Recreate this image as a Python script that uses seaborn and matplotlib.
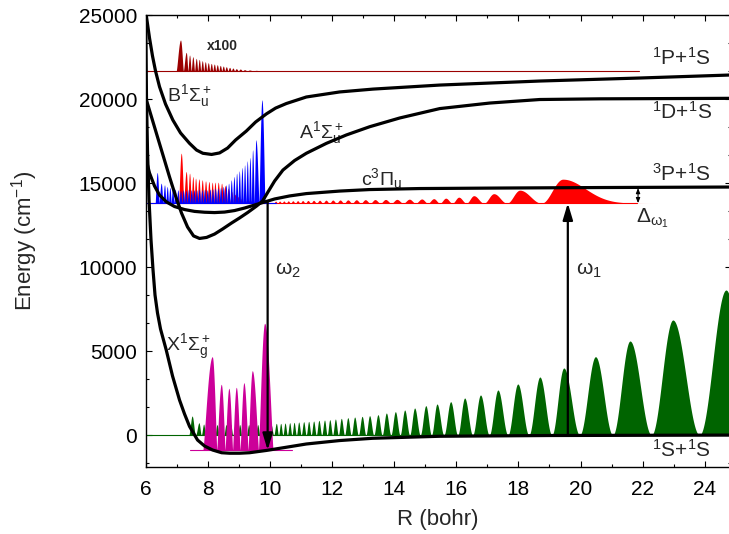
import numpy as np
import matplotlib
matplotlib.use("Agg")
import matplotlib.pyplot as plt
import seaborn as sns
from matplotlib.ticker import MultipleLocator

# ---- potential curves (R in bohr, E in cm^-1) ----
X_R = [6.006, 6.032, 6.064, 6.113, 6.177, 6.242, 6.306, 6.386, 6.483, 6.667, 6.870, 7.095,
       7.256, 7.417, 7.675, 7.900, 8.158, 8.448, 8.705, 9.027, 9.349, 9.887, 10.477, 11.176,
       12.248, 13.311, 15.469, 19.011, 24.84]
X_E = [25000, 19940, 16960, 13990, 11610, 9820, 8330, 7260, 6310, 5060, 3510, 2080,
       1250, 510, -300, -655, -893, -1055, -1085, -1085, -1055, -920, -745, -535,
       -330, -195, -75, -30, -5]

B_R = [6.023, 6.129, 6.225, 6.322, 6.451, 6.644, 6.879, 7.127, 7.417, 7.643, 7.845, 8.126,
       8.383, 8.641, 8.899, 9.243, 9.543, 9.887, 10.187, 10.531, 11.176, 12.248, 13.321,
       15.469, 18.689, 21.910, 24.84]
B_E = [25000, 23630, 22560, 21670, 20730, 19700, 18750, 17980, 17360, 16960, 16770, 16700,
       16790, 17080, 17560, 18090, 18630, 19110, 19460, 19730, 20120, 20420, 20590,
       20830, 21070, 21250, 21430]

A_R = [6.000, 6.193, 6.386, 6.580, 6.773, 6.966, 7.159, 7.353, 7.546, 7.739, 7.965, 8.222,
       8.480, 8.770, 9.027, 9.285, 9.575, 9.768, 9.939, 10.155, 10.422, 10.799, 11.176,
       11.820, 12.464, 13.214, 14.180, 15.469, 17.079, 18.689, 20.622, 24.84]
A_E = [20120, 18930, 17740, 16550, 15360, 14230, 13210, 12380, 11850, 11700, 11760, 11960,
       12260, 12620, 12920, 13240, 13630, 13930, 14460, 15120, 15770, 16340, 16770,
       17360, 17860, 18350, 18870, 19430, 19760, 19970, 20010, 20040]

C_R = [6.000, 6.129, 6.290, 6.451, 6.676, 6.934, 7.256, 7.578, 7.900, 8.222, 8.544, 8.866,
       9.188, 9.510, 9.833, 10.155, 10.638, 11.176, 12.248, 13.214, 14.824, 17.401,
       20.622, 24.84]
C_E = [16550, 15590, 14820, 14280, 13870, 13600, 13420, 13310, 13260, 13240, 13270, 13360,
       13510, 13690, 13870, 14050, 14230, 14370, 14520, 14610, 14670, 14700, 14730, 14760]

# ---- wave packets: lobe positions and heights above their baselines ----
GREEN_BASE = 0
GREEN_R = [7.50, 7.72, 7.87, 8.01, 8.16, 8.30, 8.45, 8.59, 8.74, 8.88, 9.03, 9.17, 9.32,
           9.46, 9.61, 9.75, 9.90, 10.04, 10.21, 10.35, 10.49, 10.64, 10.78, 10.93, 11.09,
           11.25, 11.41, 11.58, 11.76, 11.93, 12.11, 12.30, 12.51, 12.73, 12.97, 13.21,
           13.48, 13.75, 14.04, 14.34, 14.66, 15.02, 15.38, 15.82, 16.27, 16.78, 17.34,
           17.98, 18.69, 19.46, 20.48, 21.59, 22.97, 24.68]
GREEN_H = [1130, 730, 650, 620, 620, 620, 620, 620, 620, 620, 620, 620, 620, 620, 620, 620,
           620, 620, 694, 694, 714, 734, 754, 774, 794, 813, 833, 873, 893, 913, 952, 992,
           1032, 1071, 1111, 1151, 1210, 1309, 1389, 1488, 1607, 1746, 1845, 1982, 2202,
           2381, 2678, 3036, 3452, 3988, 4660, 5595, 6845, 8630]

PINK_BASE = -893
PINK_R = [8.148, 8.438, 8.683, 8.921, 9.166, 9.436, 9.833]
PINK_H = [5553, 3911, 3673, 3732, 4006, 4720, 7542]

BLUE_BASE = 13800
BLUE_R = [6.376, 6.505, 6.612, 6.698, 6.784, 6.870, 6.955, 7.041, 7.127, 7.213, 7.299,
          7.385, 7.471, 7.557, 7.643, 7.728, 7.814, 7.900, 7.986, 8.072, 8.158, 8.244,
          8.330, 8.415, 8.501, 8.587, 8.673, 8.759, 8.845, 8.931, 9.017, 9.103, 9.188,
          9.274, 9.360, 9.446, 9.553, 9.747]
BLUE_H = [1825, 1190, 1091, 992, 932, 893, 833, 794, 754, 794, 754, 833, 794, 794, 794,
          833, 794, 833, 794, 833, 853, 893, 893, 932, 992, 1091, 1190, 1389, 1587, 1786,
          1924, 2123, 2282, 2520, 2718, 3174, 3770, 6150]

RED_BASE = 13800
RED_R = [7.149, 7.310, 7.417, 7.524, 7.610, 7.718, 7.825, 7.932, 8.040, 8.147, 8.233,
         8.340, 8.448, 8.555, 8.662, 8.770, 8.877, 8.984, 9.092, 9.199, 9.306, 9.414,
         9.543, 9.704]
RED_H = [2976, 1885, 1786, 1587, 1488, 1448, 1389, 1329, 1290, 1250, 1250, 1250, 1190,
         1052, 893, 694, 536, 397, 298, 238, 198, 159, 139, 119]
RIPPLE_R = [10.187, 10.316, 10.451, 10.593, 10.741, 10.895, 11.056, 11.227, 11.407, 11.601,
            11.807, 12.026, 12.261, 12.512, 12.783, 13.072, 13.385, 13.723, 14.090, 14.490,
            14.889, 15.275, 15.662, 16.081, 16.564, 17.208, 18.045, 19.430]
RIPPLE_H = [119, 125, 131, 137, 143, 149, 155, 161, 167, 173, 179, 185, 190, 196, 202, 208,
            214, 220, 226, 238, 250, 268, 298, 357, 446, 565, 774, 1428]

DARKRED_BASE = 21665
DARKRED_R = [7.127, 7.311, 7.417, 7.523, 7.633, 7.729, 7.826, 7.923, 8.019, 8.116, 8.213,
             8.309, 8.406, 8.502, 8.599, 8.705, 8.812, 8.921, 9.050, 9.188, 9.349, 9.565,
             9.778]
DARKRED_H = [1845, 1111, 952, 853, 754, 694, 615, 555, 496, 456, 417, 377, 337, 298, 258,
             218, 179, 139, 119, 79, 60, 40, 20]

OMEGA1_R = 19.59
OMEGA2_R = 9.93
DELTA_R = 21.85


def lobes(r, centers, heights, sharp=1.0, first_w=None, last_w=None, tail=None):
    """Draw each lobe between the midpoints of its neighbours."""
    c = np.asarray(centers, float)
    h = np.asarray(heights, float)
    mid = (c[1:] + c[:-1]) / 2
    lo = np.r_[c[0] - (first_w or (mid[0] - c[0])), mid]
    hi = np.r_[mid, c[-1] + (last_w or (c[-1] - mid[-1]))]
    out = np.zeros_like(r)
    for ci, hgt, a, b in zip(c, h, lo, hi):
        t = np.where(r < ci, (r - ci) / (ci - a), (r - ci) / (b - ci))
        shape = np.where(np.abs(t) <= 1, np.cos(np.pi / 2 * np.clip(t, -1, 1)) ** (2 * sharp), 0)
        out = np.maximum(out, hgt * shape)
    if tail:
        right = r > c[-1]
        out[right] = np.maximum(out[right],
                                h[-1] * np.exp(-0.5 * ((r[right] - c[-1]) / tail) ** 2))
    return out


sns.set_theme(style="ticks")
plt.rcParams["font.family"] = ["Liberation Sans", "DejaVu Sans"]
plt.rcParams["mathtext.fontset"] = "custom"
plt.rcParams["mathtext.rm"] = "Liberation Sans"
plt.rcParams["mathtext.it"] = "Liberation Sans"
plt.rcParams["mathtext.bf"] = "Liberation Sans:bold"

fig = plt.figure(figsize=(7.29, 5.34), dpi=100)
ax = fig.add_axes([0.1996, 0.1264, 0.8031, 0.8455])

grid = np.linspace(6, 24.84, 9000)

# thin baselines
ax.plot([6, 24.84], [GREEN_BASE] * 2, color="#006400", lw=0.8, zorder=1)
ax.plot([7.42, 10.73], [PINK_BASE] * 2, color="#cc0099", lw=0.8, zorder=2)
ax.plot([6.0, 21.82], [RED_BASE] * 2, color="#ff0000", lw=0.8, zorder=1)
ax.plot([6.05, 10.2], [BLUE_BASE] * 2, color="#0000ff", lw=0.8, zorder=2)
ax.plot([6.0, 21.88], [DARKRED_BASE] * 2, color="#9b0000", lw=0.8, zorder=1)

# packets
ax.fill_between(grid, GREEN_BASE, GREEN_BASE + lobes(grid, GREEN_R, GREEN_H),
                color="#006400", lw=0, zorder=1)
ax.fill_between(grid, PINK_BASE, PINK_BASE + lobes(grid, PINK_R, PINK_H, sharp=0.6,
                                                   first_w=0.3, last_w=0.27),
                color="#cc0099", lw=0, zorder=2)
ax.fill_between(grid, RED_BASE, RED_BASE + lobes(grid, RED_R, RED_H, sharp=0.6),
                color="#ff0000", lw=0, zorder=1)
ax.fill_between(grid, RED_BASE, RED_BASE + lobes(grid, RIPPLE_R, RIPPLE_H, tail=0.72),
                color="#ff0000", lw=0, zorder=1)
ax.fill_between(grid, BLUE_BASE, BLUE_BASE + lobes(grid, BLUE_R, BLUE_H, sharp=0.6),
                color="#0000ff", lw=0, zorder=2)
ax.fill_between(grid, DARKRED_BASE, DARKRED_BASE + lobes(grid, DARKRED_R, DARKRED_H,
                                                         sharp=0.7, first_w=0.14),
                color="#9b0000", lw=0, zorder=1)

# potential curves
for r, e in [(X_R, X_E), (B_R, B_E), (A_R, A_E), (C_R, C_E)]:
    sns.lineplot(x=r, y=e, ax=ax, color="black", lw=2.3, sort=False,
                 estimator=None, zorder=5)

# laser transitions
ax.annotate("", xy=(OMEGA1_R, RED_BASE), xytext=(OMEGA1_R, GREEN_BASE),
            arrowprops=dict(arrowstyle="-|>,head_length=1.0,head_width=0.3",
                            mutation_scale=10, lw=1.6, color="black",
                            shrinkA=0, shrinkB=0), zorder=6)
ax.annotate("", xy=(OMEGA2_R, -900), xytext=(OMEGA2_R, 13880),
            arrowprops=dict(arrowstyle="-|>,head_length=1.0,head_width=0.3",
                            mutation_scale=10, lw=1.6, color="black",
                            shrinkA=0, shrinkB=0), zorder=6)
ax.annotate("", xy=(DELTA_R, 14700), xytext=(DELTA_R, RED_BASE),
            arrowprops=dict(arrowstyle="<|-|>,head_length=0.5,head_width=0.2",
                            mutation_scale=6, lw=0.8, color="black",
                            shrinkA=0, shrinkB=0), zorder=6)

# labels
fs = 14
ax.text(8.47, 23150, "x100", fontsize=10, fontweight="bold", ha="center", va="center")
ax.text(6.676, 20180, r"B$^1\Sigma_u^+$", fontsize=fs, va="center")
ax.text(10.94, 18000, r"A$^1\Sigma_u^+$", fontsize=fs, va="center")
ax.text(12.95, 15240, r"c$^3\Pi_u$", fontsize=fs, va="center")
ax.text(6.667, 5240, r"X$^1\Sigma_g^+$", fontsize=fs, va="center")
ax.text(22.3, 22440, r"$^1$P+$^1$S", fontsize=15, va="center")
ax.text(22.3, 19220, r"$^1$D+$^1$S", fontsize=15, va="center")
ax.text(22.3, 15530, r"$^3$P+$^1$S", fontsize=15, va="center")
ax.text(22.3, -890, r"$^1$S+$^1$S", fontsize=15, va="center")
ax.text(21.8, 12920, r"$\Delta_{\omega_1}$", fontsize=15, va="center")
ax.text(10.16, 9820, r"$\omega_2$", fontsize=15, va="center")
ax.text(19.85, 9820, r"$\omega_1$", fontsize=15, va="center")

ax.set_xlim(6, 24.84)
ax.set_ylim(-1875, 25000)
ax.set_xticks(range(6, 25, 2))
ax.set_yticks(range(0, 25001, 5000))
ax.xaxis.set_minor_locator(MultipleLocator(1))
ax.yaxis.set_minor_locator(MultipleLocator(5000 / 3))
ax.tick_params(which="both", direction="in", top=True, right=True, width=0.8,
               colors="black", labelsize=15)
ax.tick_params(which="major", length=4.5)
ax.tick_params(which="minor", length=2.2)
ax.tick_params(axis="x", pad=10)
ax.tick_params(axis="y", pad=6)
for s in ax.spines.values():
    s.set_linewidth(1.0)
    s.set_color("black")
ax.set_xlabel("R (bohr)", fontsize=16, labelpad=7)
ax.set_ylabel(r"Energy (cm$^{-1}$)", fontsize=16, labelpad=28)

fig.savefig("out.png", dpi=100)
